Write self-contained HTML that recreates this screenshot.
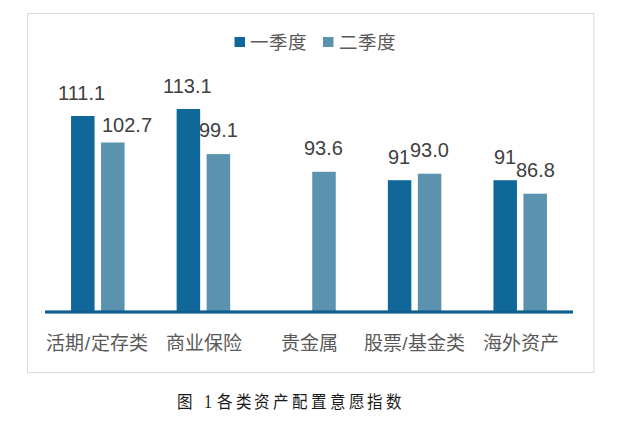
<!DOCTYPE html>
<html lang="zh-CN">
<head>
<meta charset="utf-8">
<style>
html,body{margin:0;padding:0;background:#fff;}
body{width:620px;height:424px;position:relative;overflow:hidden;font-family:"Liberation Sans",sans-serif;}
svg{position:absolute;left:0;top:0;}
.t{position:absolute;white-space:nowrap;line-height:1;}
.v{font-size:20px;color:#404040;}
.c{font-size:19px;color:#595959;}
.lg{font-size:18.5px;color:#595959;}
.cap{font-family:"Liberation Serif",serif;font-size:15.5px;color:#1a1a1a;letter-spacing:2.85px;transform:scaleY(1.12);transform-origin:0 0;}
</style>
</head>
<body>
<svg width="620" height="424" viewBox="0 0 620 424">
  <rect x="27.5" y="13.5" width="566.4" height="359.2" fill="#fff" stroke="#d9d9d9" stroke-width="1"/>
  <g fill="#10679a">
    <rect x="71.05" y="116" width="23.5" height="195.5"/>
    <rect x="176.65" y="109.0" width="23.5" height="202.5"/>
    <rect x="387.85" y="180.2" width="23.5" height="131.3"/>
    <rect x="493.45" y="180.2" width="23.5" height="131.3"/>
  </g>
  <g fill="#5a92b0">
    <rect x="101.05" y="142.5" width="23.5" height="169"/>
    <rect x="206.65" y="154.1" width="23.5" height="157.4"/>
    <rect x="312.25" y="171.8" width="23.5" height="139.7"/>
    <rect x="417.85" y="173.7" width="23.5" height="137.8"/>
    <rect x="523.45" y="193.7" width="23.5" height="117.8"/>
  </g>
  <rect x="45" y="310.4" width="528" height="3.2" fill="#0e5f90"/>
  <rect x="234.5" y="37" width="10.5" height="10" fill="#10679a"/>
  <rect x="323" y="37" width="10.5" height="10" fill="#5a92b0"/>
</svg>
<div class="t lg" style="left:249.5px;top:33.5px;">一季度</div>
<div class="t lg" style="left:338.5px;top:33.5px;">二季度</div>

<div class="t v" style="left:58px;top:83px;">111.1</div>
<div class="t v" style="left:102px;top:115px;">102.7</div>
<div class="t v" style="left:163px;top:76px;">113.1</div>
<div class="t v" style="left:199px;top:120px;">99.1</div>
<div class="t v" style="left:304px;top:138px;">93.6</div>
<div class="t v" style="left:388px;top:147px;">91</div>
<div class="t v" style="left:410px;top:140px;">93.0</div>
<div class="t v" style="left:494px;top:147px;">91</div>
<div class="t v" style="left:516px;top:160px;">86.8</div>

<div class="t c" style="left:46px;top:334px;">活期<span style="margin:0 0.8px">/</span>定存类</div>
<div class="t c" style="left:166px;top:334px;">商业保险</div>
<div class="t c" style="left:281px;top:334px;">贵金属</div>
<div class="t c" style="left:363.7px;top:334px;">股票<span style="margin:0 0.5px">/</span>基金类</div>
<div class="t c" style="left:483px;top:334px;">海外资产</div>

<div class="t cap" style="left:176.5px;top:393px;">图 <span style="font-size:16px;margin-left:2px">1</span><span style="margin-left:1.75px">各类资产配置意愿指数</span></div>
</body>
</html>
